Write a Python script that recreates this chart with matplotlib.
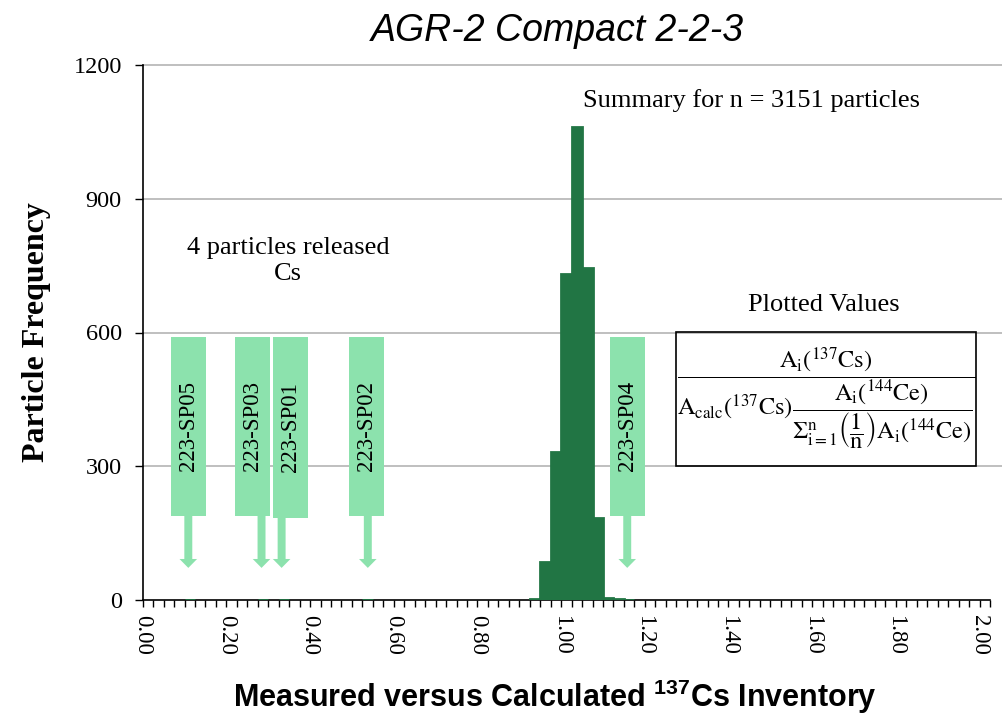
import numpy as np
import matplotlib
matplotlib.use('Agg')
import matplotlib.pyplot as plt
from matplotlib.patches import Rectangle, FancyArrow
from matplotlib.ticker import MultipleLocator, FuncFormatter

# ---------- data ----------
bin_left = [0.100, 0.275, 0.325, 0.525,
            0.925, 0.950, 0.975, 1.000, 1.025, 1.050, 1.075, 1.100, 1.125, 1.150]
counts = [1, 1, 1, 1,
          2, 85, 331, 731, 1062, 744, 185, 4, 2, 1]
bin_width = 0.025

# released particle callouts
sp_labels = ['223-SP05', '223-SP03', '223-SP01', '223-SP02', '223-SP04']
sp_box_x = [0.1095, 0.262, 0.353, 0.536, 1.159]
sp_tip_x = [0.109, 0.284, 0.332, 0.538, 1.158]
sp_box_bottom = [189, 189, 185, 189, 189]

yticks = [0, 300, 600, 900, 1200]

plt.rcParams['font.family'] = ['Liberation Serif', 'DejaVu Serif']
plt.rcParams['mathtext.rm'] = 'Liberation Sans:bold'
plt.rcParams['mathtext.bf'] = 'Liberation Sans:bold'

dark = '#217544'
light = '#8ce2ad'

fig = plt.figure(figsize=(10.03, 7.17), dpi=100)
ax = fig.add_axes([142.7 / 1003, 117 / 717, (990 - 142.7) / 1003, 535 / 717])

# grid
for y in yticks[1:]:
    ax.axhline(y, xmin=0, xmax=1.015, color='#b4b4b4', lw=1.2, clip_on=False, zorder=0)

ax.bar(bin_left, counts, width=bin_width, align='edge', color=dark,
       edgecolor=dark, lw=2, zorder=3)

# callouts
box_w = 0.0837
box_top = 590
for lab, bx, tx, bb in zip(sp_labels, sp_box_x, sp_tip_x, sp_box_bottom):
    ax.add_patch(Rectangle((bx - box_w / 2, bb), box_w, box_top - bb,
                           color=light, lw=0, zorder=3))
    ax.add_patch(FancyArrow(tx, bb, 0, 72 - bb, width=0.019, head_width=0.042,
                            head_length=20, length_includes_head=True,
                            color=light, lw=0, zorder=3))
    ax.text(bx, (box_top + bb) / 2, lab, rotation=90, ha='center', va='center',
            fontsize=16.5, zorder=4)

# formula box
ax.add_patch(Rectangle((1.275, 300.6), 1.992 - 1.275, 601 - 300.6, fill=False,
                       ec='black', lw=1.2, zorder=4, clip_on=False))
formula = (r'$\dfrac{\mathrm{A_i}\left(^{137}\mathrm{Cs}\right)}'
           r'{\mathrm{A_{calc}}\left(^{137}\mathrm{Cs}\right)'
           r'\dfrac{\mathrm{A_i}\left(^{144}\mathrm{Ce}\right)}'
           r'{\Sigma_{\mathrm{i=1}}^{\mathrm{n}}\left(\dfrac{1}{\mathrm{n}}\right)'
           r'\mathrm{A_i}\left(^{144}\mathrm{Ce}\right)}}$')
ax.text(1.633, 451, formula, ha='center', va='center', fontsize=17.5,
        math_fontfamily='stix', zorder=5)

ax.text(1.455, 1121, 'Summary for n = 3151 particles', ha='center', va='center', fontsize=19)
ax.text(0.347, 760, '4 particles released\nCs', ha='center', va='center', fontsize=19,
        linespacing=1.2)
ax.text(1.628, 662, 'Plotted Values', ha='center', va='center', fontsize=19)

# axes
ax.set_xlim(0, 2.025)
ax.set_ylim(0, 1200)
ax.set_yticks(yticks)
ax.xaxis.set_major_locator(MultipleLocator(0.2))
ax.xaxis.set_minor_locator(MultipleLocator(0.025))
ax.xaxis.set_major_formatter(FuncFormatter(lambda v, p: f'{v:.2f}'))
ax.tick_params(axis='x', which='both', direction='out', length=5, width=1,
               labelsize=16.5, labelrotation=270, pad=6)
ax.tick_params(axis='y', direction='out', length=6, width=1, labelsize=17.5, pad=9)
ax.spines['top'].set_visible(False)
ax.spines['right'].set_visible(False)
ax.spines['bottom'].set_linewidth(1.2)
ax.spines['left'].set_linewidth(1.2)

ax.set_ylabel('Particle Frequency', fontsize=23, fontweight='bold', labelpad=16)
fig.text(555 / 1003, 1 - 697 / 717,
         r'Measured versus Calculated $^{\mathbf{137}}$Cs Inventory',
         ha='center', va='center', fontsize=22, fontweight='bold',
         family='Liberation Sans', math_fontfamily='custom')
fig.text(557 / 1003, 1 - 31 / 717, 'AGR-2 Compact 2-2-3', ha='center', va='center',
         fontsize=27, style='italic', family='Liberation Sans')

fig.savefig('out.png', dpi=100, facecolor='white')
